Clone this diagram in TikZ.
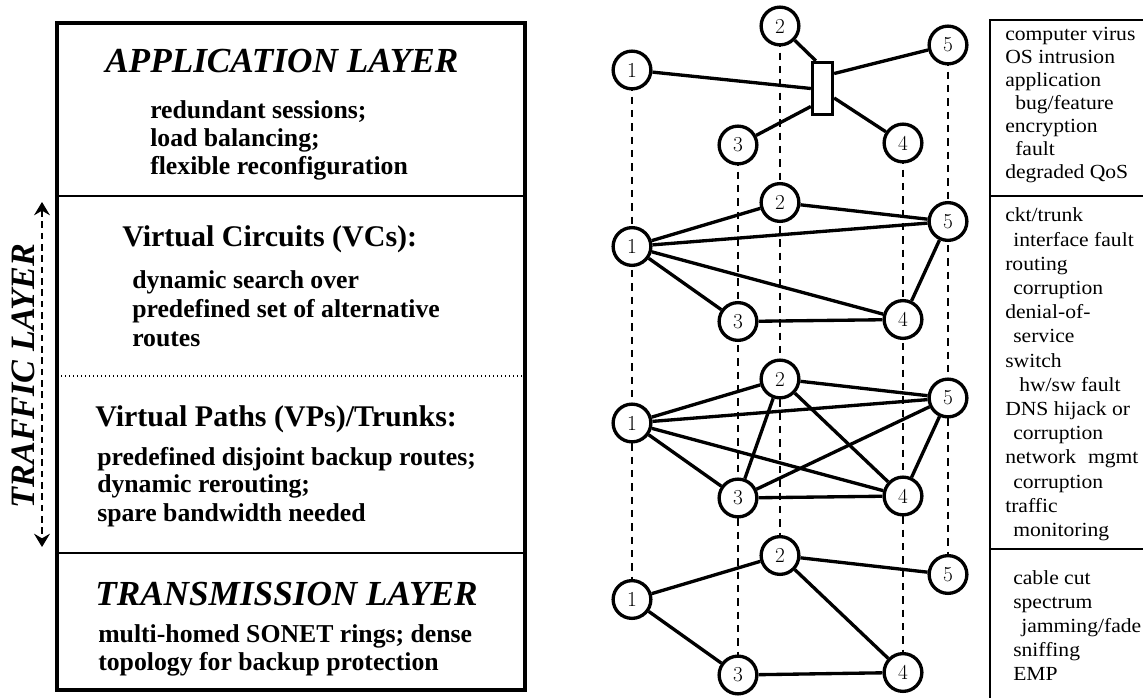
\documentclass[tikz,border=0pt]{standalone}
\usepackage{fontspec}
\usetikzlibrary{arrows.meta,calc,backgrounds}
\newfontfamily\tnr{Liberation Serif}
\newfontfamily\tnrw{Liberation Serif}[FakeStretch=1.08]
\begin{document}
\begin{tikzpicture}[x=0.75pt,y=-0.75pt,
  nd/.style={circle,draw,line width=2.5pt,fill=white,minimum size=28.3pt,inner sep=0pt,font=\fontsize{16}{16}\selectfont},
  sw/.style={rectangle,draw,line width=2.5pt,fill=white,minimum width=15pt,minimum height=39pt,inner sep=0pt},
  edge/.style={line width=2.5pt},
  col/.style={line width=1.2pt,dash pattern=on 5.5pt off 4.5pt},
  hd/.style={inner sep=0pt,anchor=base west,font=\tnr\bfseries\itshape\fontsize{26.4}{28}\selectfont},
  sub/.style={inner sep=0pt,anchor=base west,font=\tnr\bfseries\fontsize{22.5}{24}\selectfont},
  body/.style={inner sep=0pt,anchor=base west,font=\tnr\bfseries\fontsize{19.3}{21}\selectfont},
  rt/.style={inner sep=0pt,anchor=base west,font=\tnrw\fontsize{15}{16}\selectfont}]
\useasboundingbox (0,0) rectangle (1143,698);

% ---------- left box ----------
\draw[line width=3pt] (57,23) rectangle (525,690);
\draw[line width=2pt] (57,196) -- (525,196);
\draw[line width=1pt,dotted] (57,376) -- (525,376);
\draw[line width=1.3pt] (57,553) -- (525,553);

\node[hd] (appl) at (105,73) {APPLICATION LAYER};
\node[body] (ap1) at (150,119) {redundant sessions;};
\node[body] (ap2) at (150,147) {load balancing;};
\node[body] (ap3) at (150,175) {flexible reconfiguration};

\node[sub] (vch) at (122,247) {Virtual Circuits (VCs):};
\node[body] (vc1) at (132,289) {dynamic search over};
\node[body] (vc2) at (132,318) {predefined set of alternative};
\node[body] (vc3) at (132,347) {routes};

\node[sub] (vph) at (95,427) {Virtual Paths (VPs)/Trunks:};
\node[body] (vp1) at (97,466) {predefined disjoint backup routes;};
\node[body] (vp2) at (97,493) {dynamic rerouting;};
\node[body] (vp3) at (97,522) {spare bandwidth needed};

\node[hd] (trl) at (95,605) {TRANSMISSION LAYER};
\node[body] (tr1) at (98,642) {multi-homed SONET rings; dense};
\node[body] (tr2) at (98,670) {topology for backup protection};

% traffic layer arrow
\coordinate (tt) at (42,202);
\coordinate (tb) at (42,547);
\draw[line width=1.2pt,dash pattern=on 5pt off 3.5pt,
  {Stealth[length=10pt,width=12pt,inset=3.5pt]}-{Stealth[length=10pt,width=12pt,inset=3.5pt]}] (tt) -- (tb);
\node[inner sep=0pt,rotate=90,font=\tnr\bfseries\itshape\fontsize{25.6}{28}\selectfont] (traffic) at (23,376) {TRAFFIC LAYER};

% ---------- graphs ----------
% layer 1
\node[nd] (a1) at (632,70) {1};
\node[nd] (a2) at (780,26) {2};
\node[nd] (a3) at (738,145) {3};
\node[nd] (a4) at (903,143) {4};
\node[nd] (a5) at (948,45) {5};
\node[sw] (sw) at (822.5,88.5) {};
% layer 2
\node[nd] (b1) at (632,246.5) {1};
\node[nd] (b2) at (780,202.5) {2};
\node[nd] (b3) at (738,321.5) {3};
\node[nd] (b4) at (903,319.5) {4};
\node[nd] (b5) at (948,221.5) {5};
% layer 3
\node[nd] (c1) at (632,423) {1};
\node[nd] (c2) at (780,379) {2};
\node[nd] (c3) at (738,498) {3};
\node[nd] (c4) at (903,496) {4};
\node[nd] (c5) at (948,398) {5};
% layer 4
\node[nd] (d1) at (632,599.5) {1};
\node[nd] (d2) at (780,555.5) {2};
\node[nd] (d3) at (738,675) {3};
\node[nd] (d4) at (903,672.5) {4};
\node[nd] (d5) at (948,574.5) {5};

\begin{scope}[on background layer]
\foreach \i in {1,...,5} \draw[col] (a\i.center) -- (d\i.center);
\end{scope}

% layer 1 edges
\draw[edge] (a1) -- (sw.west);
\draw[edge] (a2) -- ($(sw.north west)+(5,0)$);
\draw[edge] (a5) -- ($(sw.east)+(0,-15)$);
\draw[edge] (a3) -- ($(sw.west)+(0,18)$);
\draw[edge] (a4) -- ($(sw.east)+(0,9.5)$);
% layer 2 edges
\foreach \u/\v in {1/2,2/5,1/5,1/4,1/3,3/4,4/5} \draw[edge] (b\u) -- (b\v);
% layer 3 edges
\foreach \u/\v in {1/2,2/5,1/5,1/4,1/3,2/3,2/4,3/5,3/4,4/5} \draw[edge] (c\u) -- (c\v);
% layer 4 edges
\foreach \u/\v in {1/2,2/5,2/4,1/3,3/4} \draw[edge] (d\u) -- (d\v);

% ---------- right column ----------
\draw[line width=1.5pt] (1143,20) -- (990,20) -- (990,698);
\draw[line width=1.5pt] (990,196) -- (1143,196);
\draw[line width=1.5pt] (990,549) -- (1143,549);

\foreach \x/\y/\t [count=\i] in {
  1005/41/{computer virus}, 1005/64/{OS intrusion}, 1005/87/{application},
  1015/110/{bug/feature}, 1005/133/{encryption}, 1015/156/{fault},
  1005/179/{degraded QoS},
  1005/222/{ckt/trunk}, 1013/246.2/{interface fault}, 1005/270.4/{routing},
  1013/294.6/{corruption}, 1005/318.8/{denial-of-}, 1013/343/{service},
  1005/367.2/{switch}, 1019/391.4/{hw/sw fault}, 1005/415.6/{DNS hijack or},
  1013/439.8/{corruption}, 1005/464/{network\hspace{0.6em}mgmt}, 1013/488.2/{corruption},
  1005/512.4/{traffic}, 1013/536.6/{monitoring},
  1013/585/{cable cut}, 1013/608.75/{spectrum}, 1021/632.5/{jamming/fade},
  1013/656.25/{sniffing}, 1013/680/{EMP}}
  \node[rt] (r\i) at (\x,\y) {\t};
\end{tikzpicture}
\end{document}
